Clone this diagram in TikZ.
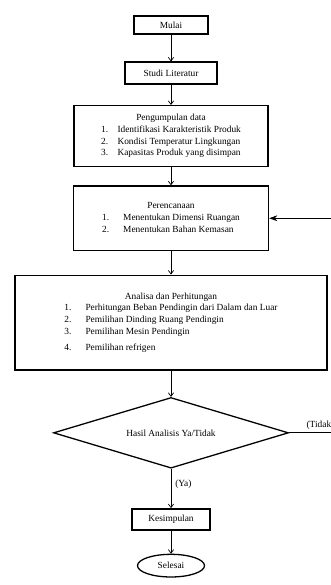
\documentclass[tikz,border=0pt]{standalone}
\usepackage{fontspec}
\setmainfont{Liberation Serif}
\usetikzlibrary{shapes.geometric, arrows.meta, positioning}

\begin{document}
\begin{tikzpicture}[
    node distance=0.7cm,
    box/.style={rectangle, draw, line width=1.6pt, minimum width=#1, minimum height=0.64cm, align=center, font=\fontsize{8}{10}\selectfont, inner sep=1pt},
    block/.style={rectangle, draw, line width=1.1pt, minimum width=#1, align=center, font=\fontsize{8}{10}\selectfont, inner sep=0pt},
    decision/.style={diamond, aspect=3.3, draw, line width=1.1pt, minimum width=7.05cm, minimum height=2.12cm, inner sep=0pt, font=\fontsize{8}{10}\selectfont},
    terminal/.style={ellipse, draw, line width=1.1pt, minimum width=2.01cm, minimum height=0.68cm, inner sep=0pt, font=\fontsize{8}{10}\selectfont},
    arrow/.style={-{Straight Barb[length=3pt, width=4.5pt]}, line width=0.6pt},
    farrow/.style={-{Stealth[length=7pt, width=5pt]}, line width=1pt},
    lbl/.style={font=\fontsize{8}{10}\selectfont}
]
\useasboundingbox (0,0) rectangle (9.93,-17.55);

\node[box=2.22cm, minimum height=0.55cm] (mulai) at (5.13,-0.75) {Mulai};
\node[box=2.76cm, below=0.79cm of mulai] (studi) {Studi Literatur};
\node[block=5.82cm, minimum height=1.82cm, below=0.61cm of studi] (kumpul) {%
  \begin{tabular}{@{}l@{\hspace{8pt}}l@{}}
  \multicolumn{2}{c}{Pengumpulan data}\\
  1. & Identifikasi Karakteristik Produk\\
  2. & Kondisi Temperatur Lingkungan\\
  3. & Kapasitas Produk yang disimpan
  \end{tabular}};
\node[block=5.85cm, minimum height=1.94cm, below=0.55cm of kumpul] (rencana) {%
  \begin{tabular}{@{}l@{\hspace{12pt}}l@{}}
  \multicolumn{2}{c}{Perencanaan}\\
  1. & Menentukan Dimensi Ruangan\\
  2. & Menentukan Bahan Kemasan
  \end{tabular}};
\node[block=9.36cm, minimum height=2.84cm, below=0.7cm of rencana] (analisa) {%
  \begin{tabular}{@{}l@{\hspace{12pt}}l@{}}
  \multicolumn{2}{c}{Analisa dan Perhitungan}\\
  1. & Perhitungan Beban Pendingin dari Dalam dan Luar\\
  2. & Pemilihan Dinding Ruang Pendingin\\
  3. & Pemilihan Mesin Pendingin\\[4pt]
  4. & Pemilihan refrigen
  \end{tabular}};
\node[decision, below=0.79cm of analisa] (hasil) {Hasil Analisis Ya/Tidak};
\node[box=2.34cm, below=1.18cm of hasil] (simpul) {Kesimpulan};
\node[terminal, below=0.67cm of simpul] (selesai) {Selesai};

% loop back (Tidak)
\coordinate (balik) at ([xshift=1.6cm]hasil.east);
\node[lbl, anchor=south west] (tidak) at ([xshift=0.4cm, yshift=-1pt]hasil.east) {(Tidak)};

\draw[arrow] (mulai) -- (studi);
\draw[arrow] (studi) -- (kumpul);
\draw[arrow] (kumpul) -- (rencana);
\draw[arrow] (rencana) -- (analisa);
\draw[arrow] (analisa) -- (hasil);
\draw[arrow] (hasil) -- node[lbl, right, pos=0.4] {(Ya)} (simpul);
\draw[arrow] (simpul) -- (selesai);
\draw[farrow] (hasil.east) -- (balik) |- (rencana.east);
\end{tikzpicture}
\end{document}
